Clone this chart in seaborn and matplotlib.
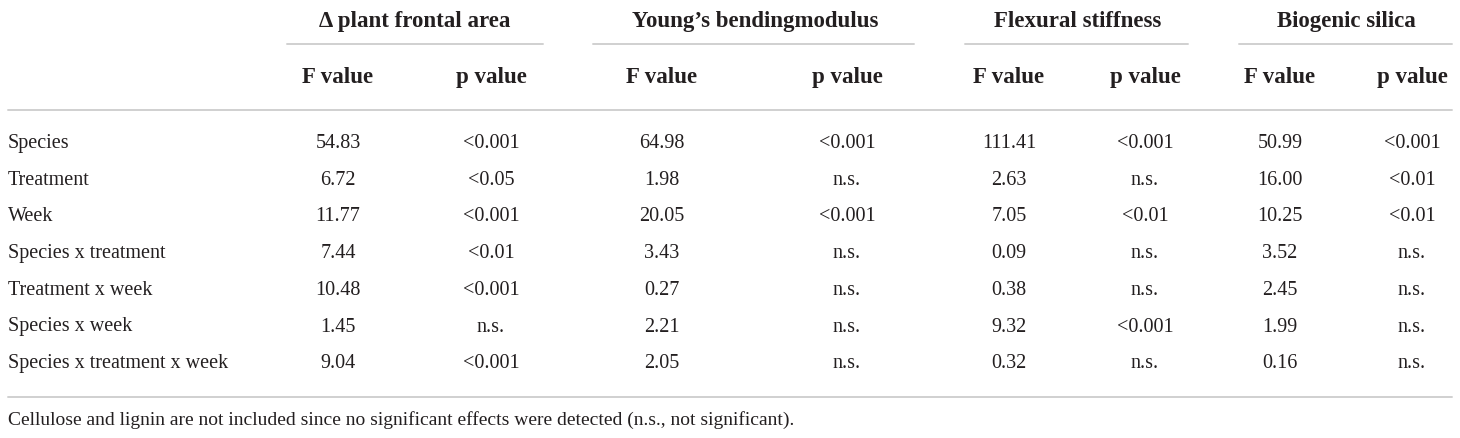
import matplotlib
matplotlib.use("Agg")
import matplotlib.pyplot as plt
import seaborn as sns

# table content
groups = ["\u0394 plant frontal area", "Young\u2019s bendingmodulus", "Flexural stiffness", "Biogenic silica"]
effects = ["Species", "Treatment", "Week", "Species x treatment", "Treatment x week",
           "Species x week", "Species x treatment x week"]
f_area = ["54.83", "6.72", "11.77", "7.44", "10.48", "1.45", "9.04"]
p_area = ["<0.001", "<0.05", "<0.001", "<0.01", "<0.001", "n.s.", "<0.001"]
f_young = ["64.98", "1.98", "20.05", "3.43", "0.27", "2.21", "2.05"]
p_young = ["<0.001", "n.s.", "<0.001", "n.s.", "n.s.", "n.s.", "n.s."]
f_flex = ["111.41", "2.63", "7.05", "0.09", "0.38", "9.32", "0.32"]
p_flex = ["<0.001", "n.s.", "<0.01", "n.s.", "n.s.", "<0.001", "n.s."]
f_silica = ["50.99", "16.00", "10.25", "3.52", "2.45", "1.99", "0.16"]
p_silica = ["<0.001", "<0.01", "<0.01", "n.s.", "n.s.", "n.s.", "n.s."]
footnote = "Cellulose and lignin are not included since no significant effects were detected (n.s., not significant)."

columns = [(f_area, p_area), (f_young, p_young), (f_flex, p_flex), (f_silica, p_silica)]

# layout (pixel coords)
f_x = [338, 662, 1009, 1280]
p_x = [491, 847, 1145, 1412]
group_x = [415, 755, 1078, 1346]
group_lines = [(287, 543), (593, 914), (965, 1188), (1239, 1452)]
row_y0, row_step = 148, 36.7

sns.set_theme(style="white")
plt.rcParams["font.family"] = ["Liberation Serif", "DejaVu Serif"]

txt = "#231f20"
rule = "#d0d0d0"

fig = plt.figure(figsize=(14.6, 4.38), dpi=100)
ax = fig.add_axes([0, 0, 1, 1])
ax.set_xlim(0, 1460)
ax.set_ylim(438, 0)
ax.axis("off")

for g, gx, (x0, x1) in zip(groups, group_x, group_lines):
    ax.text(gx, 27, g, ha="center", va="baseline", fontsize=16.5, fontweight="bold", color=txt)
    ax.plot([x0, x1], [44, 44], color=rule, lw=1.4)

for fx, px in zip(f_x, p_x):
    ax.text(fx, 83, "F value", ha="center", va="baseline", fontsize=16.5, fontweight="bold", color=txt)
    ax.text(px, 83, "p value", ha="center", va="baseline", fontsize=16.5, fontweight="bold", color=txt)

ax.plot([8, 1452], [110, 110], color=rule, lw=1.4)

for i, eff in enumerate(effects):
    y = row_y0 + i * row_step
    ax.text(8, y, eff, ha="left", va="baseline", fontsize=14.5, color=txt)
    for (fv, pv), fx, px in zip(columns, f_x, p_x):
        ax.text(fx, y, fv[i], ha="center", va="baseline", fontsize=14.5, color=txt)
        ax.text(px, y, pv[i], ha="center", va="baseline", fontsize=14.5, color=txt)

ax.plot([8, 1452], [397, 397], color=rule, lw=1.4)
ax.text(8, 425, footnote, ha="left", va="baseline", fontsize=14, color=txt)

fig.savefig("out.png", dpi=100, facecolor="white")
